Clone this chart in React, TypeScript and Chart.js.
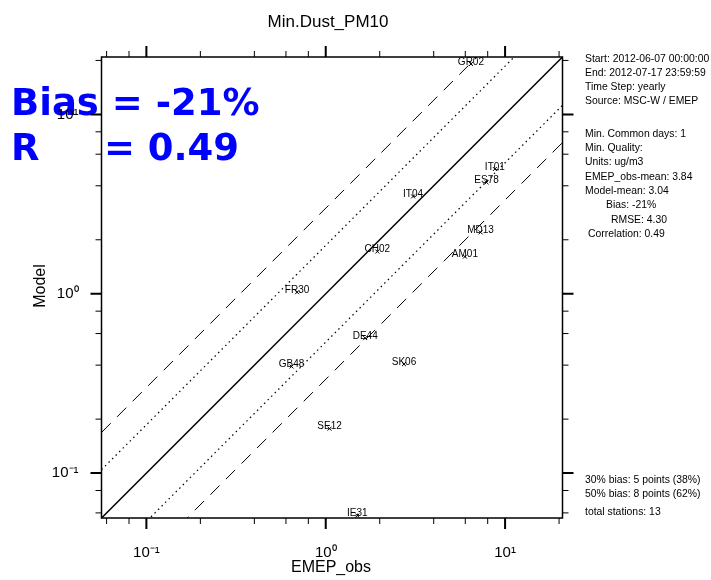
import React, { useEffect, useRef } from "react";
import { Chart, registerables } from "chart.js";

Chart.register(...registerables);

// ---- data ----
const stations = ["GR02", "IT01", "ES78", "IT04", "MD13", "CH02", "AM01", "FR30", "DE44", "GB48", "SK06", "SE12", "IE31"];
const obsValues = [6.45, 8.77, 7.88, 3.07, 7.3, 1.94, 5.97, 0.692, 1.66, 0.645, 2.73, 1.05, 1.5];
const modelValues = [19.1, 4.96, 4.18, 3.49, 2.2, 1.72, 1.61, 1.02, 0.566, 0.393, 0.405, 0.177, 0.058];

const majorTicks = [0.1, 1, 10];
const majorTickLabels = ["10⁻¹", "10⁰", "10¹"];
const minorTicks = [0.06, 0.08, 0.2, 0.4, 0.6, 0.8, 2, 4, 6, 8, 20];
const axisMin = 0.0562;
const axisMax = 20.9;

const dottedFactor = 1.86;
const dashedFactor = 3;

const titleText = "Min.Dust_PM10";
const xTitle = "EMEP_obs";
const yTitle = "Model";
const biasLine = "Bias = -21%";
const rLine = "R     = 0.49";

const infoTop = [
  "Start: 2012-06-07 00:00:00",
  "End: 2012-07-17 23:59:59",
  "Time Step: yearly",
  "Source: MSC-W / EMEP",
];
const infoMid = [
  "Min. Common days: 1",
  "Min. Quality:",
  "Units: ug/m3",
  "EMEP_obs-mean: 3.84",
  "Model-mean: 3.04",
  "Bias: -21%",
  "RMSE: 4.30",
  "Correlation: 0.49",
];
const infoMidIndent = [0, 0, 0, 0, 0, 21, 26, 3];
const infoBottom = ["30% bias: 5 points (38%)", "50% bias: 8 points (62%)", "total stations: 13"];

const SANS = "'Liberation Sans', Arial, Helvetica, sans-serif";

const overlayPlugin = {
  id: "overlay",
  beforeDraw(chart: any) {
    const ctx = chart.ctx;
    ctx.save();
    ctx.fillStyle = "#ffffff";
    ctx.fillRect(0, 0, chart.width, chart.height);
    // big blue stats text
    ctx.fillStyle = "#0000ff";
    ctx.font = "bold 37px 'DejaVu Sans', sans-serif";
    ctx.textAlign = "left";
    ctx.textBaseline = "alphabetic";
    ctx.fillText(biasLine, 11, 115);
    ctx.fillText(rLine, 11, 160);
    ctx.restore();
  },
  afterDraw(chart: any) {
    const ctx = chart.ctx;
    const ca = chart.chartArea;
    const xs = chart.scales.x;
    const ys = chart.scales.y;
    ctx.save();
    // frame
    ctx.strokeStyle = "#000";
    ctx.lineWidth = 1.5;
    ctx.strokeRect(ca.left, ca.top, ca.right - ca.left, ca.bottom - ca.top);
    // ticks
    const drawTicks = (vals: number[], len: number, w: number) => {
      ctx.lineWidth = w;
      ctx.beginPath();
      vals.forEach((v) => {
        const px = xs.getPixelForValue(v);
        ctx.moveTo(px, ca.bottom);
        ctx.lineTo(px, ca.bottom + len);
        ctx.moveTo(px, ca.top);
        ctx.lineTo(px, ca.top - len);
        const py = ys.getPixelForValue(v);
        ctx.moveTo(ca.left, py);
        ctx.lineTo(ca.left - len, py);
        ctx.moveTo(ca.right, py);
        ctx.lineTo(ca.right + len, py);
      });
      ctx.stroke();
    };
    drawTicks(majorTicks, 11, 2);
    drawTicks(minorTicks, 6, 1);

    // station labels
    ctx.fillStyle = "#000";
    ctx.font = `10px ${SANS}`;
    ctx.textAlign = "center";
    ctx.textBaseline = "alphabetic";
    stations.forEach((s, i) => {
      const px = xs.getPixelForValue(obsValues[i]);
      const py = ys.getPixelForValue(modelValues[i]);
      ctx.fillText(s, px, py + 0.5);
    });

    // title
    ctx.font = `17px ${SANS}`;
    ctx.textAlign = "center";
    ctx.fillText(titleText, 328, 27);
    // axis titles
    ctx.font = `16px ${SANS}`;
    ctx.fillText(xTitle, 331, 572);
    ctx.save();
    ctx.translate(45, 286);
    ctx.rotate(-Math.PI / 2);
    ctx.fillText(yTitle, 0, 0);
    ctx.restore();

    // info panel
    ctx.font = `10.4px ${SANS}`;
    ctx.textAlign = "left";
    ctx.textBaseline = "middle";
    infoTop.forEach((t, i) => ctx.fillText(t, 585, 59 + i * 14.2));
    infoMid.forEach((t, i) => ctx.fillText(t, 585 + infoMidIndent[i], 134 + i * 14.3));
    ctx.fillText(infoBottom[0], 585, 480);
    ctx.fillText(infoBottom[1], 585, 494);
    ctx.fillText(infoBottom[2], 585, 512);
    ctx.restore();
  },
};

export default function App() {
  const canvasRef = useRef<HTMLCanvasElement | null>(null);

  useEffect(() => {
    if (!canvasRef.current) return;
    const line = (f: number) => [
      { x: axisMin, y: axisMin * f },
      { x: axisMax, y: axisMax * f },
    ];
    const points = obsValues.map((v, i) => ({ x: v, y: modelValues[i] }));
    const chart = new Chart(canvasRef.current, {
      type: "scatter",
      data: {
        datasets: [
          {
            label: "1:1",
            data: line(1),
            showLine: true,
            borderColor: "#000",
            borderWidth: 1.5,
            pointRadius: 0,
          },
          {
            label: "dotted up",
            data: line(dottedFactor),
            showLine: true,
            borderColor: "#000",
            borderWidth: 1.2,
            borderDash: [1.5, 3.5],
            pointRadius: 0,
          },
          {
            label: "dotted down",
            data: line(1 / dottedFactor),
            showLine: true,
            borderColor: "#000",
            borderWidth: 1.2,
            borderDash: [1.5, 3.5],
            pointRadius: 0,
          },
          {
            label: "dashed up",
            data: line(dashedFactor),
            showLine: true,
            borderColor: "#000",
            borderWidth: 1,
            borderDash: [13, 9],
            pointRadius: 0,
          },
          {
            label: "dashed down",
            data: line(1 / dashedFactor),
            showLine: true,
            borderColor: "#000",
            borderWidth: 1,
            borderDash: [13, 9],
            pointRadius: 0,
          },
          {
            label: "stations",
            data: points,
            showLine: false,
            pointStyle: "crossRot",
            pointRadius: 2.8,
            borderColor: "#000",
            borderWidth: 1,
            clip: false as any,
          },
        ],
      },
      options: {
        responsive: false,
        animation: false,
        devicePixelRatio: 1,
        events: [],
        layout: { padding: { top: 57, right: 148.5, left: 0, bottom: 0 } },
        plugins: {
          legend: { display: false },
          tooltip: { enabled: false },
          title: { display: false },
        },
        scales: {
          x: {
            type: "logarithmic",
            position: "bottom",
            min: axisMin,
            max: axisMax,
            grid: { display: false, drawTicks: false },
            border: { display: false },
            ticks: {
              padding: 26,
              color: "#000",
              autoSkip: false,
              maxRotation: 0,
              font: { family: SANS, size: 15 },
              callback: (v: any) => {
                const i = majorTicks.indexOf(Number(v));
                return i >= 0 ? majorTickLabels[i] : "";
              },
            },
            afterBuildTicks: (s: any) => {
              s.ticks = majorTicks.map((v) => ({ value: v, major: true }));
            },
            afterFit: (s: any) => {
              s.height = 62;
            },
          },
          y: {
            type: "logarithmic",
            position: "left",
            min: axisMin,
            max: axisMax,
            grid: { display: false, drawTicks: false },
            border: { display: false },
            ticks: {
              padding: 23,
              color: "#000",
              autoSkip: false,
              font: { family: SANS, size: 15 },
              callback: (v: any) => {
                const i = majorTicks.indexOf(Number(v));
                return i >= 0 ? majorTickLabels[i] : "";
              },
            },
            afterBuildTicks: (s: any) => {
              s.ticks = majorTicks.map((v) => ({ value: v, major: true }));
            },
            afterFit: (s: any) => {
              s.width = 101.5;
            },
          },
        },
      },
      plugins: [overlayPlugin],
    });
    return () => chart.destroy();
  }, []);

  return (
    <div style={{ position: "absolute", left: 0, top: 0, width: 711, height: 580, background: "#fff" }}>
      <canvas ref={canvasRef} width={711} height={580} />
    </div>
  );
}
